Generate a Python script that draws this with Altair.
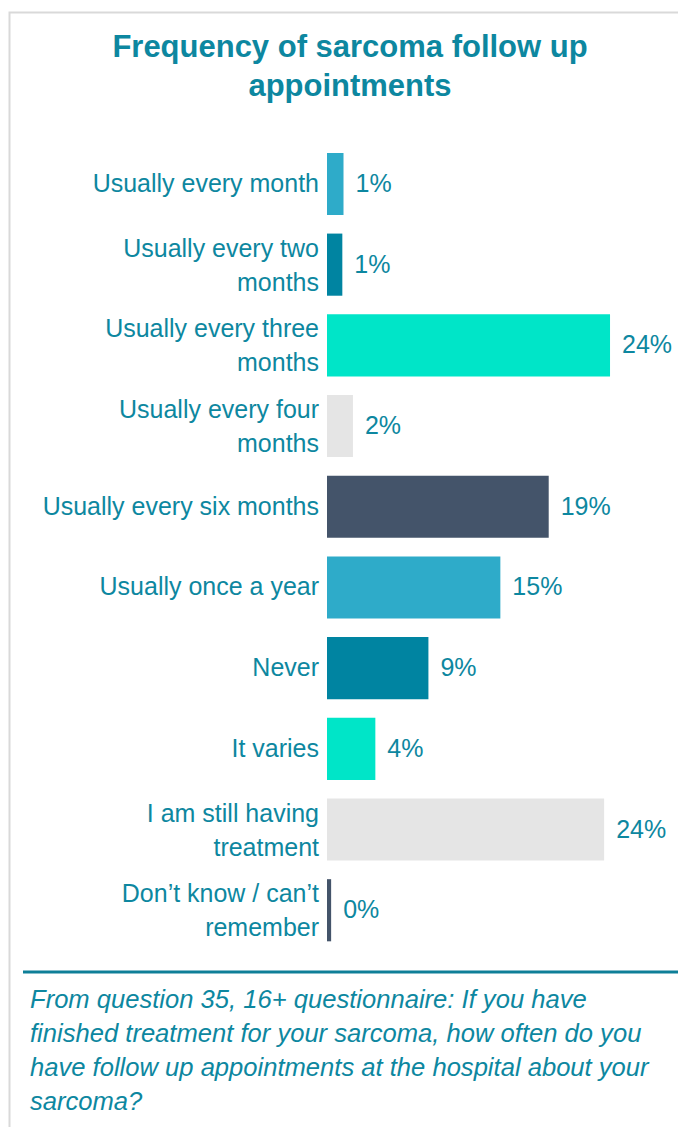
import altair as alt
import pandas as pd

# ---- data ----
categories = [
    "Usually every month",
    "Usually every two\nmonths",
    "Usually every three\nmonths",
    "Usually every four\nmonths",
    "Usually every six months",
    "Usually once a year",
    "Never",
    "It varies",
    "I am still having\ntreatment",
    "Don\u2019t know / can\u2019t\nremember",
]
values = [1.4, 1.3, 24.0, 2.2, 18.8, 14.7, 8.6, 4.1, 23.5, 0.35]
bar_colors = ["#2eabc9", "#0084a1", "#00e5c8", "#e5e5e5", "#44546a",
              "#2eabc9", "#0084a1", "#00e5c8", "#e5e5e5", "#44546a"]
value_labels = [f"{round(v)}%" for v in values]

TITLE = "Frequency of sarcoma follow up\nappointments"
FOOTNOTE = ("From question 35, 16+ questionnaire: If you have\n"
            "finished treatment for your sarcoma, how often do you\n"
            "have follow up appointments at the hospital about your\n"
            "sarcoma?")

TEAL = "#0d87a0"
FONT = "Liberation Sans"

df = pd.DataFrame({"cat": categories, "val": values, "color": bar_colors,
                   "lab": value_labels,
                   "multi": [("\n" in c) for c in categories]})

W, H = 342, 807

y_enc = alt.Y("cat:N", sort=categories, axis=None,
              scale=alt.Scale(paddingInner=0.23, paddingOuter=0.115))
x_scale = alt.Scale(domain=[0, 29], nice=False)

base = alt.Chart(df)

bars = base.mark_bar().encode(
    x=alt.X("val:Q", scale=x_scale, axis=None),
    y=y_enc,
    color=alt.Color("color:N", scale=None),
)

vals = base.mark_text(align="left", baseline="middle", dx=12,
                      fontSize=25, font=FONT, color=TEAL).encode(
    x=alt.X("val:Q", scale=x_scale, axis=None),
    y=y_enc,
    text="lab:N",
)

cat_single = base.transform_filter("!datum.multi").mark_text(
    align="right", baseline="middle", fontSize=25,
    font=FONT, color=TEAL).encode(
    x=alt.value(-8),
    y=y_enc,
    text="cat:N",
)

cat_multi = base.transform_filter("datum.multi").mark_text(
    align="right", baseline="middle", fontSize=25, dy=-16,
    font=FONT, color=TEAL, lineBreak="\n", lineHeight=34).encode(
    x=alt.value(-8),
    y=y_enc,
    text="cat:N",
)

one = pd.DataFrame({"a": [0]})

title = alt.Chart(one).mark_text(
    align="center", baseline="alphabetic", fontSize=31, fontWeight="bold",
    font=FONT, color=TEAL, lineBreak="\n", lineHeight=39).encode(
    x=alt.value(23), y=alt.value(-87.0), text=alt.value(TITLE))

foot = alt.Chart(one).mark_text(
    align="left", baseline="alphabetic", fontSize=25.6, fontStyle="italic",
    font=FONT, color=TEAL, lineBreak="\n", lineHeight=34).encode(
    x=alt.value(-297), y=alt.value(864.4), text=alt.value(FOOTNOTE))

sep = alt.Chart(one).mark_rule(color="#0e7f98", strokeWidth=3).encode(
    x=alt.value(-304), x2=alt.value(360), y=alt.value(828.4))

frame = alt.Chart(one).mark_rect(filled=False, stroke="#d9d9d9",
                                 strokeWidth=2).encode(
    x=alt.value(-317.5), x2=alt.value(420),
    y=alt.value(-131.1), y2=alt.value(1200))

chart = alt.layer(frame, sep, bars, vals, cat_single, cat_multi, title,
                  foot).properties(
    width=W, height=H,
    autosize=alt.AutoSizeParams(type="none"),
    padding={"left": 319, "top": 135.6, "right": 9, "bottom": 176},
).configure_view(stroke=None)

chart.save("out.html", embed_options={"renderer": "svg", "actions": False})
